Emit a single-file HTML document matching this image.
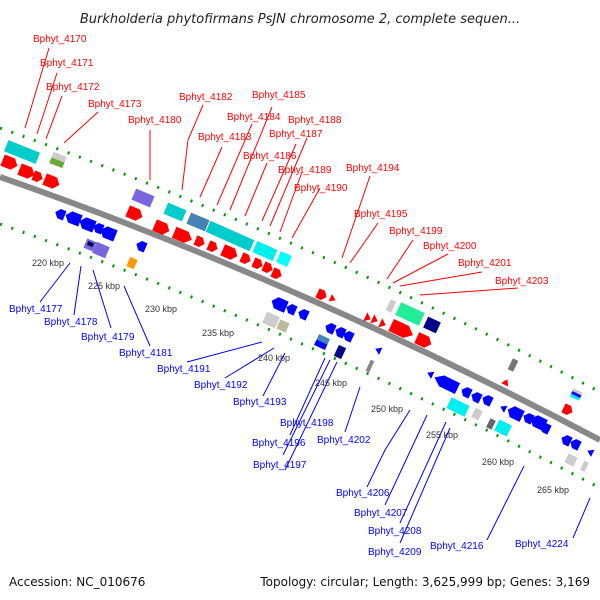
<!DOCTYPE html>
<html><head><meta charset="utf-8"><style>
html,body{margin:0;padding:0;background:#fff;}
svg{display:block;}
.r{fill:#f00;font:10px "Liberation Sans",sans-serif;}
.b{fill:#00f;font:10px "Liberation Sans",sans-serif;}
.k{fill:#333;font:9px "Liberation Sans",sans-serif;}
.lr{stroke:#f00;stroke-width:1;fill:none;}
.lb{stroke:#00f;stroke-width:1;fill:none;}
</style></head><body>
<svg width="600" height="600" viewBox="0 0 600 600" xmlns="http://www.w3.org/2000/svg">
<defs>
<polygon id="rf" points="-8,-6 3,-6 8,0 3,6 -8,6" fill="#f00"/>
<polygon id="rs" points="-5,-5 1,-5 5,0 1,5 -5,5" fill="#f00"/>
<polygon id="bf" points="-8,0 -3,-6 8,-6 8,6 -3,6" fill="#00f"/>
<polygon id="bs" points="-5,0 -1,-5 5,-5 5,5 -1,5" fill="#00f"/>
</defs>
<text x="300" y="23" text-anchor="middle" style="font:italic 13px 'DejaVu Sans',sans-serif;fill:#222">Burkholderia phytofirmans PsJN chromosome 2, complete sequen...</text>

<!-- dotted tracks -->
<path d="M0,128 Q300,234 600,392" stroke="#090" stroke-width="3" fill="none" stroke-dasharray="2 10"/>
<path d="M0,224 Q300,330 600,488" stroke="#090" stroke-width="3" fill="none" stroke-dasharray="2 10"/>
<!-- backbone -->
<path d="M0,177 Q300,281.5 600,440" stroke="#888" stroke-width="6" fill="none"/>

<!-- forward genes -->
<g fill="#0cc">
<g transform="translate(22,152) rotate(22)"><rect x="-17" y="-6" width="34" height="12"/></g>
<g transform="translate(175,212) rotate(23)"><rect x="-10" y="-6" width="20" height="12"/></g>
<g transform="translate(198,222) rotate(23)"><rect x="-10" y="-6" width="20" height="12" fill="#4682b4"/></g>
<g transform="translate(230,236) rotate(24)"><rect x="-24" y="-6" width="48" height="12"/></g>
<g transform="translate(265,251) rotate(24)"><rect x="-11" y="-6" width="22" height="12" fill="#0ee"/></g>
<g transform="translate(284,259) rotate(24)"><rect x="-6" y="-6" width="12" height="12" fill="#0ff"/></g>
</g>
<g transform="translate(58,160) rotate(22)"><rect x="-7" y="-6" width="14" height="6" fill="#ccc"/><rect x="-7" y="0" width="14" height="6" fill="#6a3"/></g>
<g transform="translate(143,198) rotate(23)"><rect x="-10" y="-6" width="20" height="12" fill="#76d"/></g>
<g transform="translate(10,163) rotate(22)"><use href="#rf"/></g>
<g transform="translate(27,172) rotate(22)"><use href="#rf"/></g>
<g transform="translate(38,177) rotate(22)"><use href="#rs"/></g>
<g transform="translate(52,182) rotate(22)"><use href="#rf"/></g>
<g transform="translate(135,214) rotate(23)"><use href="#rf"/></g>
<g transform="translate(162,228) rotate(23)"><use href="#rf"/></g>
<g transform="translate(183,236) rotate(23)"><use href="#rf" transform="scale(1.2,1)"/></g>
<g transform="translate(200,242) rotate(24)"><use href="#rs"/></g>
<g transform="translate(213,247) rotate(24)"><use href="#rs"/></g>
<g transform="translate(230,253) rotate(24)"><use href="#rf"/></g>
<g transform="translate(246,259) rotate(24)"><use href="#rs"/></g>
<g transform="translate(258,264) rotate(24)"><use href="#rs"/></g>
<g transform="translate(268,268) rotate(24)"><use href="#rs"/></g>
<g transform="translate(277,274) rotate(24)"><use href="#rs"/></g>
<g transform="translate(322,295) rotate(25)"><use href="#rs"/></g>
<g transform="translate(333,299) rotate(25)"><polygon points="-3,-4 3,0 -3,4" fill="#f00"/></g>
<g transform="translate(368,318) rotate(25)"><polygon points="-3,-5 3,0 -3,5" fill="#f00"/></g>
<g transform="translate(375,320) rotate(25)"><polygon points="-3,-5 3,0 -3,5" fill="#f00"/></g>
<g transform="translate(383,324) rotate(25)"><polygon points="-3,-5 3,0 -3,5" fill="#f00"/></g>
<g transform="translate(391,306) rotate(25)"><rect x="-3" y="-6" width="6" height="12" fill="#ccc"/></g>
<g transform="translate(410,314) rotate(25)"><rect x="-13" y="-7" width="26" height="14" fill="#2e9"/></g>
<g transform="translate(432,325) rotate(25)"><rect x="-7" y="-6" width="14" height="12" fill="#008"/></g>
<g transform="translate(402,330) rotate(25)"><use href="#rf" transform="scale(1.5,1.1)"/></g>
<g transform="translate(424,341) rotate(25)"><use href="#rf"/></g>
<g transform="translate(513,365) rotate(26)"><rect x="-3" y="-6" width="6" height="12" fill="#777"/></g>
<g transform="translate(506,382) rotate(26)"><polygon points="-3,-4 3,0 -3,4" fill="#f00" transform="rotate(-90)"/></g>
<g transform="translate(576,395) rotate(26)"><rect x="-5" y="-5" width="10" height="3" fill="#ccc"/><rect x="-5" y="-2" width="10" height="3" fill="#00f"/><rect x="-5" y="1" width="10" height="3" fill="#0ee"/></g>
<g transform="translate(568,410) rotate(26)"><use href="#rs"/></g>

<!-- reverse genes -->
<g transform="translate(60,214) rotate(22)"><use href="#bs"/></g>
<g transform="translate(73,218) rotate(22)"><use href="#bf"/></g>
<g transform="translate(87,224) rotate(22)"><use href="#bf"/></g>
<g transform="translate(98,228) rotate(22)"><use href="#bs"/></g>
<g transform="translate(108,233) rotate(22)"><use href="#bf"/></g>
<g transform="translate(90,245) rotate(23)"><rect x="-5" y="-5" width="10" height="10" fill="#76d"/><rect x="-3" y="-3" width="6" height="4" fill="#004"/></g>
<g transform="translate(101,250) rotate(23)"><rect x="-7" y="-6" width="14" height="12" fill="#76d"/></g>
<g transform="translate(141,246) rotate(23)"><use href="#bs"/></g>
<g transform="translate(132,263) rotate(23)"><rect x="-4" y="-5" width="8" height="10" fill="#f90"/></g>
<g transform="translate(279,304) rotate(24)"><use href="#bf"/></g>
<g transform="translate(291,309) rotate(24)"><use href="#bs"/></g>
<g transform="translate(303,314) rotate(24)"><use href="#bs"/></g>
<g transform="translate(271,320) rotate(24)"><rect x="-7" y="-6" width="14" height="12" fill="#ccc"/></g>
<g transform="translate(283,326) rotate(24)"><rect x="-5" y="-5" width="10" height="10" fill="#bb9"/></g>
<g transform="translate(330,328) rotate(25)"><use href="#bs"/></g>
<g transform="translate(340,332) rotate(25)"><use href="#bs"/></g>
<g transform="translate(348,336) rotate(25)"><use href="#bs"/></g>
<g transform="translate(322,342) rotate(25)"><rect x="-6" y="-6" width="12" height="6" fill="#48b"/><rect x="-6" y="0" width="12" height="6" fill="#00f"/></g>
<g transform="translate(340,352) rotate(25)"><rect x="-4" y="-6" width="8" height="12" fill="#008"/></g>
<g transform="translate(378,350) rotate(25)"><polygon points="-3,0 3,-4 3,4" fill="#00f"/></g>
<g transform="translate(370,366) rotate(25)"><rect x="-2" y="-6" width="4" height="12" fill="#888"/></g>
<g transform="translate(430,374) rotate(26)"><polygon points="-3,0 3,-4 3,4" fill="#00f"/></g>
<g transform="translate(446,383) rotate(26)"><use href="#bf" transform="scale(1.6,1)"/></g>
<g transform="translate(466,392) rotate(26)"><use href="#bs"/></g>
<g transform="translate(476,397) rotate(26)"><use href="#bs"/></g>
<g transform="translate(487,400) rotate(26)"><use href="#bs"/></g>
<g transform="translate(458,407) rotate(26)"><rect x="-10" y="-6" width="20" height="12" fill="#0ee"/></g>
<g transform="translate(477,414) rotate(26)"><rect x="-4" y="-5" width="8" height="10" fill="#ccc"/></g>
<g transform="translate(491,424) rotate(26)"><rect x="-3" y="-5" width="6" height="10" fill="#666"/></g>
<g transform="translate(503,428) rotate(26)"><rect x="-7" y="-6" width="14" height="12" fill="#0ee"/></g>
<g transform="translate(503,408) rotate(26)"><polygon points="-3,0 3,-4 3,4" fill="#00f"/></g>
<g transform="translate(515,413) rotate(26)"><use href="#bf"/></g>
<g transform="translate(528,418) rotate(26)"><use href="#bs"/></g>
<g transform="translate(538,422) rotate(26)"><use href="#bf"/></g>
<g transform="translate(545,428) rotate(26)"><use href="#bs"/></g>
<g transform="translate(566,440) rotate(26)"><use href="#bs"/></g>
<g transform="translate(575,444) rotate(26)"><use href="#bs"/></g>
<g transform="translate(590,452) rotate(26)"><polygon points="-3,0 3,-4 3,4" fill="#00f"/></g>
<g transform="translate(571,460) rotate(26)"><rect x="-5" y="-5" width="10" height="10" fill="#ccc"/></g>
<g transform="translate(584,466) rotate(26)"><rect x="-2" y="-5" width="5" height="10" fill="#ccc"/></g>

<!-- kbp labels -->
<text class="k" x="32" y="266">220 kbp</text>
<text class="k" x="88" y="289">225 kbp</text>
<text class="k" x="145" y="312">230 kbp</text>
<text class="k" x="202" y="336">235 kbp</text>
<text class="k" x="258" y="361">240 kbp</text>
<text class="k" x="315" y="386">245 kbp</text>
<text class="k" x="371" y="412">250 kbp</text>
<text class="k" x="426" y="438">255 kbp</text>
<text class="k" x="482" y="465">260 kbp</text>
<text class="k" x="537" y="493">265 kbp</text>

<!-- red labels -->
<g class="lr">
<path d="M49,48 L25,128"/><path d="M57,73 L37,134"/><path d="M62,96 L46,139"/><path d="M98,112 L64,143"/>
<path d="M150,130 L150,180"/><path d="M203,105 L188,140 L182,190"/><path d="M222,147 L200,197"/>
<path d="M252,124 L217,205"/><path d="M272,107 L230,210"/><path d="M267,163 L245,216"/>
<path d="M296,144 L262,221"/><path d="M307,138 L270,226"/><path d="M302,172 L280,232"/><path d="M320,188 L292,238"/>
<path d="M370,176 L342,258"/><path d="M378,223 L350,263"/><path d="M413,240 L387,279"/><path d="M448,254 L393,283"/><path d="M482,272 L400,286"/><path d="M518,288 L420,295"/>
</g>
<text class="r" x="33" y="42">Bphyt_4170</text>
<text class="r" x="40" y="66">Bphyt_4171</text>
<text class="r" x="46" y="90">Bphyt_4172</text>
<text class="r" x="88" y="107">Bphyt_4173</text>
<text class="r" x="128" y="123">Bphyt_4180</text>
<text class="r" x="179" y="100">Bphyt_4182</text>
<text class="r" x="252" y="98">Bphyt_4185</text>
<text class="r" x="227" y="120">Bphyt_4184</text>
<text class="r" x="288" y="123">Bphyt_4188</text>
<text class="r" x="198" y="140">Bphyt_4183</text>
<text class="r" x="269" y="137">Bphyt_4187</text>
<text class="r" x="243" y="159">Bphyt_4186</text>
<text class="r" x="278" y="173">Bphyt_4189</text>
<text class="r" x="294" y="191">Bphyt_4190</text>
<text class="r" x="346" y="171">Bphyt_4194</text>
<text class="r" x="354" y="217">Bphyt_4195</text>
<text class="r" x="389" y="234">Bphyt_4199</text>
<text class="r" x="423" y="249">Bphyt_4200</text>
<text class="r" x="458" y="266">Bphyt_4201</text>
<text class="r" x="495" y="284">Bphyt_4203</text>

<!-- blue labels -->
<g class="lb">
<path d="M70,263 L40,302"/><path d="M81,266 L74,315"/><path d="M93,270 L111,328"/><path d="M124,286 L150,346"/>
<path d="M262,342 L187,362"/><path d="M274,348 L225,378"/><path d="M285,353 L263,396"/>
<path d="M325,358 L290,435"/><path d="M330,360 L283,455"/><path d="M337,362 L285,470"/><path d="M360,387 L345,432"/>
<path d="M410,410 L385,450 L367,487"/><path d="M427,415 L385,505"/><path d="M446,422 L400,523"/><path d="M450,428 L400,543"/><path d="M524,466 L487,540"/><path d="M590,498 L573,538"/>
</g>
<text class="b" x="9" y="312">Bphyt_4177</text>
<text class="b" x="44" y="325">Bphyt_4178</text>
<text class="b" x="81" y="340">Bphyt_4179</text>
<text class="b" x="119" y="356">Bphyt_4181</text>
<text class="b" x="157" y="372">Bphyt_4191</text>
<text class="b" x="194" y="388">Bphyt_4192</text>
<text class="b" x="233" y="405">Bphyt_4193</text>
<text class="b" x="280" y="426">Bphyt_4198</text>
<text class="b" x="252" y="446">Bphyt_4196</text>
<text class="b" x="317" y="443">Bphyt_4202</text>
<text class="b" x="253" y="468">Bphyt_4197</text>
<text class="b" x="336" y="496">Bphyt_4206</text>
<text class="b" x="354" y="516">Bphyt_4207</text>
<text class="b" x="368" y="534">Bphyt_4208</text>
<text class="b" x="368" y="555">Bphyt_4209</text>
<text class="b" x="430" y="549">Bphyt_4216</text>
<text class="b" x="515" y="547">Bphyt_4224</text>

<text x="9" y="586" style="font:12px 'DejaVu Sans',sans-serif;fill:#111">Accession: NC_010676</text>
<text x="590" y="586" text-anchor="end" style="font:12px 'DejaVu Sans',sans-serif;fill:#111">Topology: circular; Length: 3,625,999 bp; Genes: 3,169</text>
</svg>
</body></html>
